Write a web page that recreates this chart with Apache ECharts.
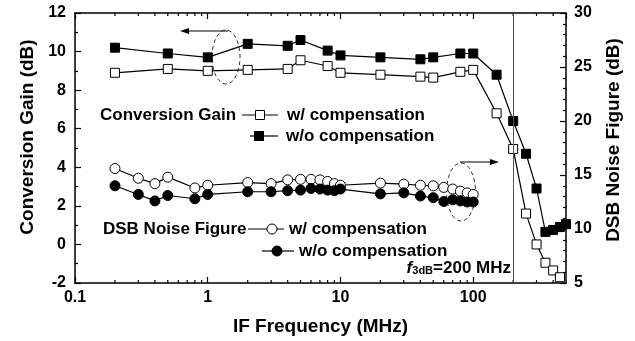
<!DOCTYPE html>
<html>
<head>
<meta charset="utf-8">
<script src="https://cdn.jsdelivr.net/npm/echarts@6/dist/echarts.min.js"></script>
<style>
html, body { margin: 0; padding: 0; background: #fff; }
#main { width: 635px; height: 341px; }
</style>
</head>
<body>
<div id="main"></div>
<script>
// conversion gain (left axis, dB)
var gainFreq = [0.2, 0.5, 1, 2, 4, 5, 8, 10, 20, 40, 50, 80, 100, 150, 200, 250, 300, 350, 400, 450];
var gainWith = [8.9, 9.1, 9.0, 9.05, 9.1, 9.55, 9.25, 8.9, 8.8, 8.7, 8.65, 8.95, 9.05, 6.8, 4.95, 1.6, 0, -0.95, -1.35, -1.7];
var gainFreqWo = [0.2, 0.5, 1, 2, 4, 5, 8, 10, 20, 40, 50, 80, 100, 150, 200, 250, 300, 350, 400, 450, 500];
var gainWo = [10.2, 9.9, 9.7, 10.4, 10.3, 10.6, 10.05, 9.8, 9.7, 9.6, 9.7, 9.9, 9.9, 8.8, 6.4, 4.7, 2.9, 0.65, 0.75, 0.9, 1.05];

// DSB noise figure (right axis, dB)
var nfFreq = [0.2, 0.3, 0.4, 0.5, 0.8, 1, 2, 3, 4, 5, 6, 7, 8, 9, 10, 20, 30, 40, 50, 60, 70, 80, 90, 100];
var nfWith = [15.6, 14.7, 14.2, 14.8, 13.8, 14.05, 14.3, 14.2, 14.55, 14.6, 14.6, 14.55, 14.4, 14.2, 14.05, 14.25, 14.15, 14.05, 14.0, 13.85, 13.7, 13.5, 13.35, 13.2];
var nfWo = [14.0, 13.2, 12.6, 13.1, 12.8, 13.2, 13.45, 13.45, 13.55, 13.6, 13.75, 13.7, 13.6, 13.55, 13.7, 13.25, 13.35, 13.05, 12.9, 12.55, 12.7, 12.6, 12.5, 12.5];

// log axis minor ticks
var minorFreq = [0.2, 0.3, 0.4, 0.5, 0.6, 0.7, 0.8, 0.9, 2, 3, 4, 5, 6, 7, 8, 9,
    20, 30, 40, 50, 60, 70, 80, 90, 200, 300, 400];

var FONT = '"Liberation Sans", Arial, sans-serif';

function zip(xs, ys) {
    var out = [];
    for (var i = 0; i < xs.length; i++) {
        out.push([xs[i], ys[i]]);
    }
    return out;
}

var chart = echarts.init(document.getElementById('main'));

var xBase = {
    type: 'log',
    logBase: 10,
    min: 0.1,
    max: 500,
    axisLine: { onZero: false, lineStyle: { color: '#000', width: 1.5 } },
    axisTick: { inside: true, length: 6, lineStyle: { color: '#000', width: 1.2 } },
    splitLine: { show: false }
};

// legend-like labels drawn by hand (the picture mixes text and keys)
function keyRow(label, x0, x1, sx, tx, y, symbol, filled) {
    var els = [
        { type: 'line', shape: { x1: x0, y1: y, x2: x1, y2: y }, style: { stroke: '#000', lineWidth: 1.2 } }
    ];
    var st = { fill: filled ? '#000' : '#fff', stroke: '#000', lineWidth: 1 };
    if (symbol === 'rect') {
        els.push({ type: 'rect', shape: { x: sx - 4.5, y: y - 4.5, width: 9, height: 9 }, style: st });
    } else {
        els.push({ type: 'circle', shape: { cx: sx, cy: y, r: 5 }, style: st });
    }
    els.push({
        type: 'text', x: tx, y: y,
        style: { text: label, font: 'bold 17px ' + FONT, fill: '#000', verticalAlign: 'middle' }
    });
    return els;
}

var graphics = [];
graphics.push({ type: 'text', x: 100, y: 115,
    style: { text: 'Conversion Gain', font: 'bold 17px ' + FONT, fill: '#000', verticalAlign: 'middle' } });
graphics = graphics.concat(keyRow('w/ compensation', 242, 278, 260, 287, 115, 'rect', false));
graphics = graphics.concat(keyRow('w/o compensation', 250, 278, 259, 286, 136, 'rect', true));
graphics.push({ type: 'text', x: 103, y: 229,
    style: { text: 'DSB Noise Figure', font: 'bold 17px ' + FONT, fill: '#000', verticalAlign: 'middle' } });
graphics = graphics.concat(keyRow('w/ compensation', 248, 284, 272, 289, 229, 'circle', false));
graphics = graphics.concat(keyRow('w/o compensation', 262, 294, 277, 299, 251, 'circle', true));

// f3dB note
graphics.push({
    type: 'text', x: 511, y: 268,
    style: {
        text: '{i|f}{s|3dB}{n|=200 MHz}',
        align: 'right', verticalAlign: 'middle',
        rich: {
            i: { font: 'italic bold 17px ' + FONT, fill: '#000' },
            s: { font: 'bold 11px ' + FONT, fill: '#000', padding: [6, 0, 0, 0] },
            n: { font: 'bold 17px ' + FONT, fill: '#000' }
        }
    }
});

// y axis titles
graphics.push({ type: 'text', x: 28, y: 137, rotation: Math.PI / 2,
    style: { text: 'Conversion Gain (dB)', font: 'bold 19px ' + FONT, fill: '#000', align: 'center', verticalAlign: 'middle' } });
graphics.push({ type: 'text', x: 614, y: 140, rotation: Math.PI / 2,
    style: { text: 'DSB Noise Figure (dB)', font: 'bold 19px ' + FONT, fill: '#000', align: 'center', verticalAlign: 'middle' } });

// dashed ellipses with arrows
graphics.push({ type: 'ellipse', shape: { cx: 226, cy: 57, rx: 14, ry: 27 },
    style: { fill: 'none', stroke: '#333', lineWidth: 1, lineDash: [4, 3] } });
graphics.push({ type: 'line', shape: { x1: 228, y1: 31, x2: 187, y2: 31 }, style: { stroke: '#000', lineWidth: 1 } });
graphics.push({ type: 'polygon', shape: { points: [[180, 31], [189, 28], [189, 34]] }, style: { fill: '#000' } });
graphics.push({ type: 'ellipse', shape: { cx: 461, cy: 192, rx: 14.5, ry: 29 },
    style: { fill: 'none', stroke: '#333', lineWidth: 1, lineDash: [4, 3] } });
graphics.push({ type: 'line', shape: { x1: 460, y1: 162, x2: 492, y2: 162 }, style: { stroke: '#000', lineWidth: 1 } });
graphics.push({ type: 'polygon', shape: { points: [[499, 162], [490, 159], [490, 165]] }, style: { fill: '#000' } });

var option = {
    animation: false,
    backgroundColor: '#fff',
    grid: { left: 75, right: 69, top: 13, bottom: 58 },
    xAxis: [
        echarts.util.merge({
            position: 'bottom',
            name: 'IF Frequency (MHz)',
            nameLocation: 'middle',
            nameGap: 34,
            nameTextStyle: { fontFamily: FONT, fontWeight: 'bold', fontSize: 19, color: '#000' },
            axisLabel: { fontFamily: FONT, fontWeight: 'bold', fontSize: 16, color: '#000', margin: 7, showMaxLabel: false }
        }, xBase, true),
        echarts.util.merge({
            position: 'top',
            axisLabel: { show: false }
        }, xBase, true)
    ],
    yAxis: [{
        type: 'value',
        position: 'left',
        min: -2,
        max: 12,
        interval: 2,
        axisLine: { show: true, onZero: false, lineStyle: { color: '#000', width: 1.5 } },
        axisTick: { inside: true, length: 6, lineStyle: { color: '#000', width: 1.2 } },
        minorTick: { show: true, splitNumber: 2, length: 3, lineStyle: { color: '#000', width: 1.2 } },
        splitLine: { show: false },
        axisLabel: { fontFamily: FONT, fontWeight: 'bold', fontSize: 16, color: '#000', margin: 9 }
    }, {
        type: 'value',
        position: 'right',
        min: 5,
        max: 30,
        interval: 5,
        axisLine: { show: true, onZero: false, lineStyle: { color: '#000', width: 1.5 } },
        axisTick: { inside: true, length: 6, lineStyle: { color: '#000', width: 1.2 } },
        minorTick: { show: true, splitNumber: 5, length: 3, lineStyle: { color: '#000', width: 1.2 } },
        splitLine: { show: false },
        axisLabel: { fontFamily: FONT, fontWeight: 'bold', fontSize: 16, color: '#000', margin: 8 }
    }],
    series: [{
        name: 'CG w/ compensation',
        type: 'line',
        data: zip(gainFreq, gainWith),
        symbol: 'rect',
        symbolSize: 9,
        lineStyle: { color: '#000', width: 1.2 },
        itemStyle: { color: '#fff', borderColor: '#000', borderWidth: 1 },
        markLine: {
            silent: true,
            symbol: 'none',
            label: { show: false },
            lineStyle: { color: '#555', width: 1, type: 'solid' },
            data: [{ xAxis: 200 }]
        },
        z: 3
    }, {
        name: 'CG w/o compensation',
        type: 'line',
        data: zip(gainFreqWo, gainWo),
        symbol: 'rect',
        symbolSize: 9,
        lineStyle: { color: '#000', width: 1.2 },
        itemStyle: { color: '#000', borderColor: '#000', borderWidth: 1 },
        z: 3
    }, {
        name: 'NF w/ compensation',
        type: 'line',
        yAxisIndex: 1,
        data: zip(nfFreq, nfWith),
        symbol: 'circle',
        symbolSize: 10,
        lineStyle: { color: '#000', width: 1.2 },
        itemStyle: { color: '#fff', borderColor: '#000', borderWidth: 1 },
        z: 3
    }, {
        name: 'NF w/o compensation',
        type: 'line',
        yAxisIndex: 1,
        data: zip(nfFreq, nfWo),
        symbol: 'circle',
        symbolSize: 10,
        lineStyle: { color: '#000', width: 1.2 },
        itemStyle: { color: '#000', borderColor: '#000', borderWidth: 1 },
        z: 3
    }, {
        // minor ticks of the log axis, top and bottom
        type: 'custom',
        silent: true,
        data: minorFreq.map(function (f) { return [f, 0]; }),
        renderItem: function (params, api) {
            var p = api.coord([api.value(0), api.value(1)]);
            var cs = params.coordSys;
            var yb = cs.y + cs.height;
            return {
                type: 'group',
                children: [
                    { type: 'line', shape: { x1: p[0], y1: yb, x2: p[0], y2: yb - 3 }, style: { stroke: '#000', lineWidth: 1.2 } },
                    { type: 'line', shape: { x1: p[0], y1: cs.y, x2: p[0], y2: cs.y + 3 }, style: { stroke: '#000', lineWidth: 1.2 } }
                ]
            };
        }
    }],
    graphic: graphics
};

chart.setOption(option);
</script>
</body>
</html>
